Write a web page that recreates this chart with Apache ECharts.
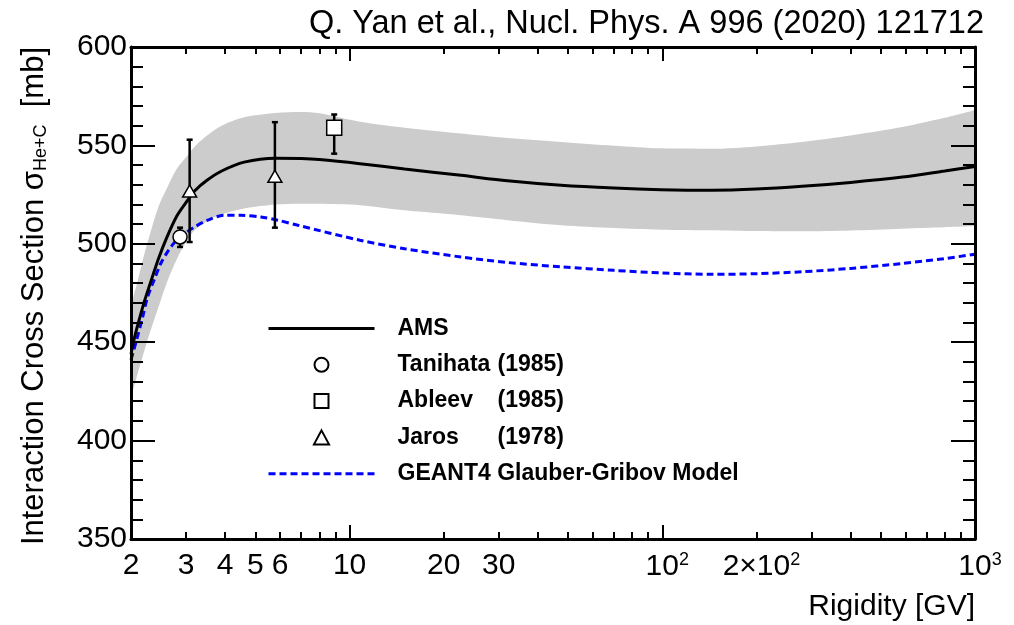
<!DOCTYPE html>
<html>
<head>
<meta charset="utf-8">
<script src="https://cdn.jsdelivr.net/npm/echarts@6/dist/echarts.min.js"></script>
<style>
html,body{margin:0;padding:0;background:#fff;}
#chart{width:1014px;height:625px;}
</style>
</head>
<body>
<div id="chart"></div>
<script>
// ---- data ----
const amsX = [2.0, 2.05, 2.1, 2.2, 2.3, 2.45, 2.6, 2.8, 3.0, 3.2, 3.5, 3.9, 4.6, 5.8, 7.0, 8.0, 10.8, 15, 22.7, 32, 47.5, 70, 99, 144, 200, 280, 400, 586, 800, 1000];
const amsY = [444, 452, 458.5, 470, 479.5, 492.5, 503, 514, 521, 527, 532.3, 537, 541.5, 543.5, 543.3, 542.8, 540.7, 538, 534.8, 532, 529.7, 528.3, 527.5, 527.2, 527.8, 529.2, 531.2, 533.9, 537, 539.3];
const bandLow = [422, 428, 434, 445, 455, 468, 480, 492, 501, 507, 511.5, 515, 518, 520, 520.4, 520.3, 519.6, 517, 514.5, 512, 509.4, 508, 507.2, 506.9, 506.5, 506.4, 506.8, 507.7, 508.4, 509];
const bandHigh = [468, 475, 481, 494, 505, 519, 528, 538, 544, 549.5, 555, 560, 564.3, 566.5, 567, 566.3, 562, 559, 556, 553.7, 551.7, 549.8, 548.5, 548.3, 549.5, 551.7, 555, 559.3, 564, 568];

const g4X = [2.0, 2.07, 2.18, 2.26, 2.37, 2.49, 2.62, 2.75, 2.93, 3.19, 3.52, 3.97, 4.49, 5.21, 5.89, 6.84, 10.8, 15, 22.7, 32, 47.5, 70, 99.4, 144, 200, 280, 400, 586, 800, 1000];
const g4Y = [441, 449.4, 462.9, 473, 481.5, 490, 496, 500.5, 504.5, 508.5, 512, 514.5, 514.5, 513.6, 512, 509.4, 501.8, 497.5, 493.3, 490.5, 488.3, 486.5, 485.2, 484.5, 484.8, 485.8, 487.5, 490, 492.5, 494.7];

// measurements: [rigidity, value, errLow, errHigh]
const tanihata = [[2.87, 503.5, 498.4, 508.2]];
const ableev   = [[8.93, 559, 545.8, 565.7]];
const jaros    = [[3.08, 526.8, 500.9, 552.9], [5.77, 534.3, 508.2, 561.8]];

// axes
const xLabelValues = [2, 3, 4, 5, 6, 10, 20, 30, 100, 200, 1000];
const xLabelTexts  = ['2', '3', '4', '5', '6', '10', '20', '30', '10^2', '2\u00d710^2', '10^3'];
const xMinorTicks  = [3, 4, 5, 6, 7, 8, 9, 20, 30, 40, 50, 60, 70, 80, 90, 200, 300, 400, 500, 600, 700, 800, 900];
const xMajorTicks  = [10, 100];
const yMin = 350, yMax = 600, yStep = 50;

const legendNames = ['AMS', 'Tanihata (1985)', 'Ableev (1985)', 'Jaros (1978)', 'GEANT4 Glauber-Gribov Model'];
const legendTexts = ['AMS', '{n|Tanihata}(1985)', '{n|Ableev}(1985)', '{n|Jaros}(1978)', 'GEANT4 Glauber-Gribov Model'];

// ---- build ----
const FONT = 'Liberation Sans, Arial, Helvetica, sans-serif';
const zip = (xs, ys) => xs.map((x, i) => [x, ys[i]]);
const SQUARE = 'path://M0,0L15,0L15,15L0,15Z';
const TRIANGLE = 'path://M7,0L14,13L0,13Z';

function fmtX(v) {
  let i = xLabelValues.findIndex(a => Math.abs(a - v) / a < 1e-6);
  if (i < 0) return '';
  const t = xLabelTexts[i];
  if (t.indexOf('^') >= 0) {
    const p = t.split('^');
    return '{p|}' + p[0] + '{s|' + p[1] + '}';
  }
  return t;
}

function xAxisBase(pos) {
  return {
    type: 'log', logBase: 10, min: 2, max: 1000, position: pos, gridIndex: 0, z: 10,
    splitLine: { show: false }, minorTick: { show: false }, minorSplitLine: { show: false },
    axisLine: { show: false, lineStyle: { color: '#000', width: 3 } },
    axisLabel: { show: false }
  };
}

const xAxes = [];
let a = xAxisBase('bottom');
a.axisLine.show = true;
a.axisTick = { show: true, inside: true, length: 7, lineStyle: { color: '#000', width: 2 }, customValues: xMinorTicks };
a.axisLabel = {
  show: true, customValues: xLabelValues, formatter: fmtX, margin: 12,
  color: '#000', fontSize: 30, fontFamily: FONT,
  rich: {
    p: { width: 10, fontSize: 30 },
    s: { fontSize: 18, fontFamily: FONT, color: '#000', width: 10, verticalAlign: 'top', padding: [0, 0, 14, 0] }
  }
};
xAxes.push(a);
a = xAxisBase('bottom');
a.axisTick = { show: true, inside: true, length: 14, lineStyle: { color: '#000', width: 2 }, customValues: xMajorTicks };
xAxes.push(a);
a = xAxisBase('top');
a.axisLine.show = true;
a.axisTick = { show: true, inside: true, length: 7, lineStyle: { color: '#000', width: 2 }, customValues: xMinorTicks };
xAxes.push(a);
a = xAxisBase('top');
a.axisTick = { show: true, inside: true, length: 14, lineStyle: { color: '#000', width: 2 }, customValues: xMajorTicks };
xAxes.push(a);

function yAxisBase(pos, labels) {
  return {
    type: 'value', min: yMin, max: yMax, interval: yStep, position: pos, z: 10,
    splitLine: { show: false }, minorSplitLine: { show: false },
    axisLine: { show: true, lineStyle: { color: '#000', width: 3 } },
    axisTick: { show: true, inside: true, length: 24, lineStyle: { color: '#000', width: 2 } },
    minorTick: { show: true, splitNumber: 5, length: 12, lineStyle: { color: '#000', width: 2 } },
    axisLabel: { show: labels, margin: 4, color: '#000', fontSize: 30, fontFamily: FONT }
  };
}

function errorBarSeries(data) {
  return {
    type: 'custom', xAxisIndex: 0, yAxisIndex: 0, z: 5, silent: true,
    encode: { x: 0, y: [2, 3] },
    data: data,
    renderItem: function (params, api) {
      const x = api.value(0);
      const lo = api.coord([x, api.value(2)]);
      const hi = api.coord([x, api.value(3)]);
      const cap = 3;
      const st = { stroke: '#000', lineWidth: 2.5 };
      return {
        type: 'group',
        children: [
          { type: 'line', shape: { x1: lo[0], y1: lo[1], x2: hi[0], y2: hi[1] }, style: st },
          { type: 'line', shape: { x1: lo[0] - cap, y1: lo[1], x2: lo[0] + cap, y2: lo[1] }, style: st },
          { type: 'line', shape: { x1: hi[0] - cap, y1: hi[1], x2: hi[0] + cap, y2: hi[1] }, style: st }
        ]
      };
    }
  };
}

function markerSeries(name, symbol, size, data) {
  return {
    name: name, type: 'scatter', xAxisIndex: 0, yAxisIndex: 0, z: 6,
    symbol: symbol, symbolSize: size, symbolKeepAspect: true,
    itemStyle: { color: '#fff', borderColor: '#000', borderWidth: 1.5, opacity: 1 },
    emphasis: { disabled: true },
    data: data.map(d => [d[0], d[1]])
  };
}

const option = {
  animation: false,
  backgroundColor: '#fff',
  title: {
    text: 'Q. Yan et al., Nucl. Phys. A 996 (2020) 121712',
    right: 25, top: 3,
    textStyle: { fontSize: 32.5, fontWeight: 'normal', fontFamily: FONT, color: '#000' }
  },
  grid: { left: 131, right: 39, top: 47, bottom: 86, containLabel: false },
  xAxis: xAxes,
  yAxis: [yAxisBase('left', true), yAxisBase('right', false)],
  legend: {
    data: [
      { name: legendNames[0], itemStyle: { opacity: 0 }, lineStyle: { width: 3 } },
      { name: legendNames[1] },
      { name: legendNames[2] },
      { name: legendNames[3] },
      { name: legendNames[4], itemStyle: { opacity: 0 }, lineStyle: { width: 3 } }
    ],
    orient: 'vertical', left: 267, top: 317, padding: 0,
    itemWidth: 106, itemHeight: 14, itemGap: 13.3,
    symbolKeepAspect: true,
    formatter: function (name) { return '{sp|}' + legendTexts[legendNames.indexOf(name)]; },
    textStyle: {
      fontSize: 23, fontWeight: 'bold', fontFamily: FONT, color: '#000',
      rich: {
        sp: { width: 18 },
        n: { width: 100, fontSize: 23, fontWeight: 'bold', fontFamily: FONT, color: '#000' }
      }
    },
    selectedMode: false
  },
  graphic: [
    {
      type: 'text', right: 39, top: 592, z: 20,
      style: { text: 'Rigidity [GV]', fontSize: 30, fontFamily: FONT, fill: '#000' }
    },
    {
      type: 'text', x: 32, y: 47, rotation: Math.PI / 2, z: 20,
      style: {
        text: '{m|Interaction Cross Section \u03c3}{s|He+C}{m|  [mb]}',
        align: 'right', verticalAlign: 'middle',
        rich: {
          m: { fontSize: 31, fontFamily: FONT, fill: '#000', lineHeight: 36, verticalAlign: 'bottom' },
          s: { fontSize: 18, fontFamily: FONT, fill: '#000', lineHeight: 18, verticalAlign: 'bottom' }
        }
      }
    }
  ],
  series: [
    {
      name: 'bandHigh', type: 'line', xAxisIndex: 0, yAxisIndex: 0, z: 1,
      data: zip(amsX, bandHigh), symbol: 'none', smooth: 0.3, silent: true,
      lineStyle: { width: 0, opacity: 0 },
      areaStyle: { color: '#cccccc', opacity: 1, origin: 'start' }
    },
    {
      name: 'bandLow', type: 'line', xAxisIndex: 0, yAxisIndex: 0, z: 1,
      data: zip(amsX, bandLow), symbol: 'none', smooth: 0.3, silent: true,
      lineStyle: { width: 0, opacity: 0 },
      areaStyle: { color: '#ffffff', opacity: 1, origin: 'start' }
    },
    {
      name: 'GEANT4 Glauber-Gribov Model', type: 'line', xAxisIndex: 0, yAxisIndex: 0, z: 3,
      data: zip(g4X, g4Y), symbol: 'none', smooth: 0.3,
      lineStyle: { color: '#0000ff', width: 3, type: [7, 4] },
      itemStyle: { color: '#0000ff' }
    },
    {
      name: 'AMS', type: 'line', xAxisIndex: 0, yAxisIndex: 0, z: 4,
      data: zip(amsX, amsY), symbol: 'none', smooth: 0.3,
      lineStyle: { color: '#000', width: 3 },
      itemStyle: { color: '#000' }
    },
    errorBarSeries(tanihata),
    errorBarSeries(ableev),
    errorBarSeries(jaros),
    markerSeries('Tanihata (1985)', 'circle', 14, tanihata),
    markerSeries('Ableev (1985)', SQUARE, 15, ableev),
    markerSeries('Jaros (1978)', TRIANGLE, [14, 13], jaros)
  ]
};

const chart = echarts.init(document.getElementById('chart'), null, { renderer: 'canvas' });
chart.setOption(option);
</script>
</body>
</html>
